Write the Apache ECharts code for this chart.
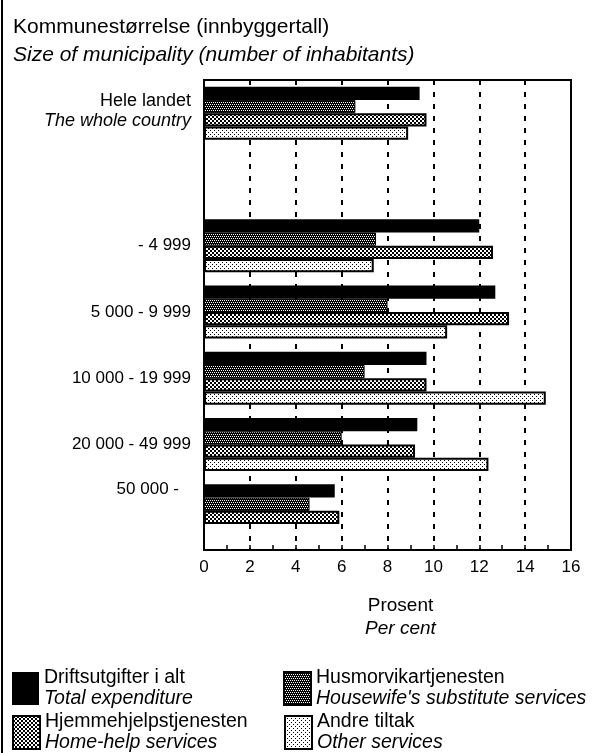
<!DOCTYPE html>
<html>
<head>
<meta charset="utf-8">
<script src="https://cdn.jsdelivr.net/npm/echarts@6/dist/echarts.min.js"></script>
<style>html,body{margin:0;padding:0;background:#fff}#c{width:593px;height:753px}</style>
</head>
<body>
<div id="c"></div>
<script>
// ---- data ----
var categories = ['Hele landet', '', '- 4 999', '5 000 - 9 999', '10 000 - 19 999', '20 000 - 49 999', '50 000 -'];
var categoriesEn = ['The whole country', '', '', '', '', '', ''];
var seriesNames = ['Driftsutgifter i alt', 'Husmorvikartjenesten', 'Hjemmehjelpstjenesten', 'Andre tiltak'];
var seriesNamesEn = ['Total expenditure', "Housewife's substitute services", 'Home-help services', 'Other services'];
var totalExpenditure = [9.4, null, 12.0, 12.7, 9.7, 9.3, 5.7];
var housewifeSubstitute = [6.6, null, 7.5, 8.0, 7.0, 6.0, 4.6];
var homeHelp = [9.7, null, 12.6, 13.3, 9.7, 9.2, 5.9];
var otherServices = [8.9, null, 7.4, 10.6, 14.9, 12.4, null];
var xTicks = [0, 2, 4, 6, 8, 10, 12, 14, 16];

var FONT = '"Liberation Sans", Arial, Helvetica, sans-serif';

function makePattern(size, bg, fg, pts) {
  var c = document.createElement('canvas');
  c.width = size; c.height = size;
  var ctx = c.getContext('2d');
  ctx.fillStyle = bg; ctx.fillRect(0, 0, size, size);
  ctx.fillStyle = fg;
  pts.forEach(function (p) { ctx.fillRect(p[0], p[1], 1, 1); });
  return { image: c, repeat: 'repeat' };
}
var patDark = makePattern(4, '#000', '#fff', [[0,0],[2,0],[1,2],[3,2]]);
var patMid = (function () {
  var pts = [];
  for (var y = 0; y < 4; y++) for (var x = 0; x < 4; x++) if (((x >> 1) + (y >> 1)) % 2 === 0) pts.push([x, y]);
  return makePattern(4, '#fff', '#000', pts);
})();
var patLight = makePattern(4, '#fff', '#000', [[0,0],[2,2]]);

var fills = ['#000', patDark, patMid, patLight];
var borders = [0, 1, 2, 2];
var dataSets = [totalExpenditure, housewifeSubstitute, homeHelp, otherServices];

var chart = echarts.init(document.getElementById('c'), null, { renderer: 'canvas' });

var series = seriesNames.map(function (n, i) {
  return {
    name: n,
    type: 'bar',
    xAxisIndex: 0, yAxisIndex: 0,
    data: dataSets[i],
    barGap: '0%',
    barCategoryGap: '20%',
    itemStyle: { color: fills[i], borderColor: '#000', borderWidth: borders[i] },
    z: 3
  };
});

function legendFormatter(name) {
  var i = seriesNames.indexOf(name);
  return '{n|' + name + '}\n{e|' + seriesNamesEn[i] + '}';
}
var legendRich = {
  n: { fontFamily: FONT, fontSize: 19.5, color: '#000', width: 229, lineHeight: 21 },
  e: { fontFamily: FONT, fontSize: 19.5, fontStyle: 'italic', color: '#000', width: 229, lineHeight: 21 }
};
function makeLegend(names, top) {
  return {
    data: names, left: 7, top: top, orient: 'horizontal',
    itemWidth: 27, itemHeight: 33, itemGap: 10, icon: 'rect',
    formatter: legendFormatter, textStyle: { rich: legendRich }, selectedMode: false
  };
}

chart.setOption({
  animation: false,
  backgroundColor: '#fff',
  title: {
    left: 8, top: 8,
    text: '{a|Kommunestørrelse (innbyggertall)}\n{b|Size of municipality (number of inhabitants)}',
    textStyle: {
      fontWeight: 'normal',
      rich: {
        a: { fontFamily: FONT, fontSize: 21, fontWeight: 'normal', color: '#000', lineHeight: 28 },
        b: { fontFamily: FONT, fontSize: 21, fontWeight: 'normal', fontStyle: 'italic', color: '#000', lineHeight: 28 }
      }
    }
  },
  legend: [
    makeLegend([seriesNames[0], seriesNames[1]], 663),
    makeLegend([seriesNames[2], seriesNames[3]], 707)
  ],
  grid: [
    { left: 204, right: 22, top: 80, height: 464, show: false, containLabel: false },
    { left: 204, right: 22, top: 80, bottom: 203, show: true, borderColor: '#000', borderWidth: 2, backgroundColor: 'transparent', containLabel: false }
  ],
  xAxis: [
    {
      gridIndex: 0, type: 'value', min: 0, max: 16, interval: 2, show: false,
      splitLine: { show: false }
    },
    {
      gridIndex: 1, type: 'value', min: 0, max: 16, interval: 2,
      axisLine: { show: true, lineStyle: { color: '#000', width: 2 } },
      axisTick: { show: true, inside: true, length: 5, lineStyle: { color: '#000', width: 1.5 } },
      minorTick: { show: true, splitNumber: 2, length: 5, lineStyle: { color: '#000', width: 1.5 } },
      axisLabel: {
        color: '#000', fontFamily: FONT, fontSize: 17, margin: 9,
        formatter: function (v) { return xTicks.indexOf(v) >= 0 ? String(v) : ''; }
      },
      splitLine: { show: true, lineStyle: { color: '#000', width: 2, type: [5, 7] } },
      name: '{a|Prosent}\n{b|Per cent}',
      nameLocation: 'middle', nameGap: 44,
      nameTextStyle: {
        rich: {
          a: { fontFamily: FONT, fontSize: 19, color: '#000', lineHeight: 23, padding: [0, 0, 0, 26] },
          b: { fontFamily: FONT, fontSize: 19, fontStyle: 'italic', color: '#000', lineHeight: 23, padding: [0, 0, 0, 26] }
        }
      }
    }
  ],
  yAxis: [
    {
      gridIndex: 0, type: 'category', inverse: true, data: categories,
      axisLine: { show: false },
      axisTick: { show: false },
      splitLine: { show: false },
      axisLabel: {
        margin: 13,
        formatter: function (v, idx) {
          if (categoriesEn[idx]) return '{h|' + v + '}\n{e|' + categoriesEn[idx] + '}';
          if (idx === categories.length - 1) return '{last|' + v + '}';
          return '{n|' + v + '}';
        },
        rich: {
          h: { fontFamily: FONT, fontSize: 18, color: '#000', lineHeight: 24, align: 'right' },
          n: { fontFamily: FONT, fontSize: 17, color: '#000', lineHeight: 24, align: 'right' },
          e: { fontFamily: FONT, fontSize: 18, fontStyle: 'italic', color: '#000', lineHeight: 24, align: 'right', padding: [0, 0, 8, 0] },
          last: { fontFamily: FONT, fontSize: 17, color: '#000', lineHeight: 20, align: 'right', padding: [0, 12, 44, 0] }
        }
      }
    },
    {
      gridIndex: 1, type: 'value', min: 0, max: 1, show: true,
      axisLine: { show: true, lineStyle: { color: '#000', width: 2 } },
      axisTick: { show: false }, axisLabel: { show: false }, splitLine: { show: false }
    }
  ],
  graphic: [
    { type: 'line', shape: { x1: 2, y1: 0, x2: 2, y2: 753 }, style: { stroke: '#000', lineWidth: 2 } }
  ],
  series: series
});
</script>
</body>
</html>
